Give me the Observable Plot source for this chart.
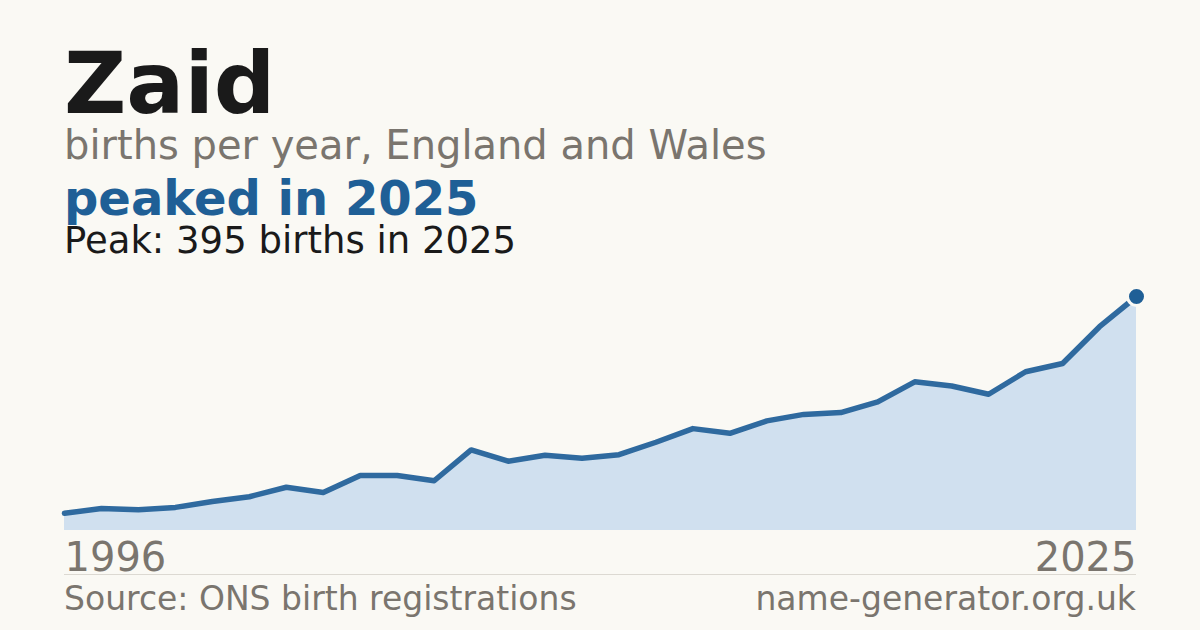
<!DOCTYPE html>
<html>
<head>
<meta charset="utf-8">
<script src="https://cdn.jsdelivr.net/npm/d3@7"></script>
<script src="https://cdn.jsdelivr.net/npm/@observablehq/plot@0.6"></script>
<style>
  html, body { margin: 0; padding: 0; }
  body { width: 1200px; height: 630px; background: #faf9f4; position: relative; overflow: hidden;
         font-family: "DejaVu Sans", sans-serif; }
  .t { position: absolute; left: 64px; white-space: nowrap; line-height: 0.9; margin: 0; }
  #title { top: 44.5px; font-size: 86px; font-weight: bold; color: #1a1a1a; }
  #sub { top: 127.2px; font-size: 40px; color: #7a756e; }
  #peaked { top: 176.8px; font-size: 48px; font-weight: bold; color: #1f5f96; }
  #peak { top: 223.5px; font-size: 37px; color: #1a1a1a; }
  #chart { position: absolute; left: 0; top: 270px; }
  #rule { position: absolute; left: 64px; width: 1072px; top: 574px; height: 1px; background: #dcd9d2; }
  .foot { position: absolute; top: 583.7px; font-size: 33px; line-height: 0.9; color: #7a756e; white-space: nowrap; }
  #src { left: 64px; }
  #site { right: 64px; }
</style>
</head>
<body>
<div class="t" id="title">Zaid</div>
<div class="t" id="sub">births per year, England and Wales</div>
<div class="t" id="peaked">peaked in 2025</div>
<div class="t" id="peak">Peak: 395 births in 2025</div>
<div id="chart"></div>
<div id="rule"></div>
<div class="foot" id="src">Source: ONS birth registrations</div>
<div class="foot" id="site">name-generator.org.uk</div>
<script>
const years = [1996,1997,1998,1999,2000,2001,2002,2003,2004,2005,2006,2007,2008,2009,2010,
               2011,2012,2013,2014,2015,2016,2017,2018,2019,2020,2021,2022,2023,2024,2025];
const births = [29,37,35,39,49,57,73,64,93,93,84,136,117,127,122,
                128,149,172,164,185,196,199,217,251,244,230,268,282,344,395];
const firstTick = [1996];
const lastTick = [2025];

const data = years.map((y, i) => ({year: y, births: births[i]}));
const last = data[data.length - 1];

const chart = Plot.plot({
  width: 1200,
  height: 310,
  marginLeft: 64,
  marginRight: 64,
  marginTop: 26,
  marginBottom: 50,
  style: {background: "transparent", fontFamily: "DejaVu Sans, sans-serif"},
  x: {domain: [1996, 2025], axis: null},
  y: {domain: [0, 395], axis: null},
  marks: [
    Plot.areaY(data, {x: "year", y: "births", fill: "#d0e0ef"}),
    Plot.lineY(data, {x: "year", y: "births", stroke: "#2f6a9f", strokeWidth: 5.5}),
    Plot.dot([last], {x: "year", y: "births", r: 9, fill: "#1f5f96", stroke: "#faf9f4", strokeWidth: 3}),
    Plot.axisX({ticks: firstTick, tickSize: 0, tickPadding: 11.6, fontSize: 40, textAnchor: "start",
                tickFormat: d => String(d), color: "#7a756e", label: null}),
    Plot.axisX({ticks: lastTick, tickSize: 0, tickPadding: 11.6, fontSize: 40, textAnchor: "end",
                tickFormat: d => String(d), color: "#7a756e", label: null})
  ]
});
document.getElementById("chart").appendChild(chart);
</script>
</body>
</html>
